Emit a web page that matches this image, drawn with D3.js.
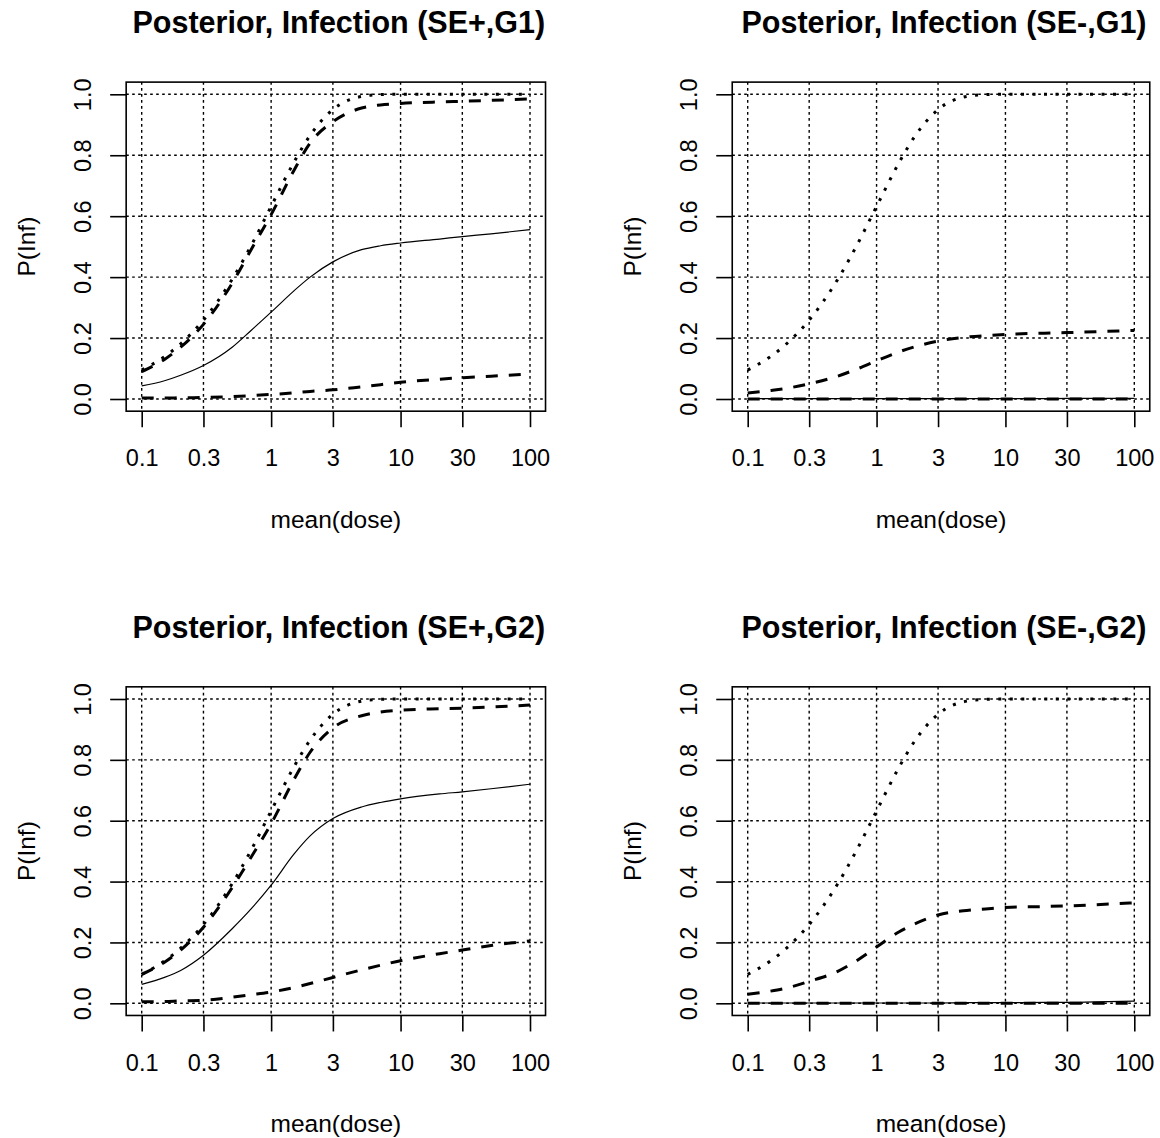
<!DOCTYPE html>
<html>
<head>
<meta charset="utf-8">
<script src="https://cdn.jsdelivr.net/npm/d3@7"></script>
<style>
  html, body { margin: 0; padding: 0; background: #ffffff; }
  svg { display: block; }
  text { font-family: "Liberation Sans", Arial, sans-serif; fill: #000; }
</style>
</head>
<body>
<div id="chart"></div>
<script>
// ---------------- data ----------------
const doses = [0.1, 0.15, 0.2, 0.3, 0.5, 0.7, 1, 1.5, 2, 3, 5, 7, 10, 20, 30, 50, 100];

const xTicks = [0.1, 0.3, 1, 3, 10, 30, 100];
const xTickLabels = ["0.1", "0.3", "1", "3", "10", "30", "100"];
const yTicks = [0, 0.2, 0.4, 0.6, 0.8, 1.0];
const yTickLabels = ["0.0", "0.2", "0.4", "0.6", "0.8", "1.0"];

const titles = [
  "Posterior, Infection (SE+,G1)",
  "Posterior, Infection (SE-,G1)",
  "Posterior, Infection (SE+,G2)",
  "Posterior, Infection (SE-,G2)"
];
const xLabel = "mean(dose)";
const yLabel = "P(Inf)";

// dotted reference curve (same in every panel)
const refDotted = [0.095, 0.139, 0.181, 0.259, 0.393, 0.503, 0.632, 0.777, 0.865, 0.950, 0.993, 0.999, 1.0, 1.0, 1.0, 1.0, 1.0];

// SE+, G1
const sePosG1Upper = [0.090, 0.130, 0.170, 0.245, 0.380, 0.490, 0.605, 0.750, 0.840, 0.910, 0.955, 0.965, 0.970, 0.975, 0.977, 0.980, 0.985];
const sePosG1Mean  = [0.043, 0.060, 0.078, 0.110, 0.170, 0.225, 0.285, 0.355, 0.400, 0.450, 0.490, 0.503, 0.512, 0.525, 0.533, 0.542, 0.556];
const sePosG1Lower = [0.003, 0.003, 0.004, 0.005, 0.008, 0.011, 0.015, 0.020, 0.025, 0.030, 0.040, 0.047, 0.055, 0.065, 0.070, 0.075, 0.082];

// SE-, G1
const seNegG1Upper = [0.020, 0.028, 0.035, 0.050, 0.075, 0.098, 0.125, 0.155, 0.172, 0.190, 0.203, 0.208, 0.212, 0.216, 0.218, 0.221, 0.225];
const seNegG1Mean  = [0.001, 0.001, 0.001, 0.001, 0.001, 0.001, 0.001, 0.001, 0.001, 0.001, 0.001, 0.001, 0.001, 0.001, 0.002, 0.002, 0.002];
const seNegG1Lower = [0, 0, 0, 0, 0, 0, 0, 0, 0, 0, 0, 0, 0, 0, 0, 0, 0];

// SE+, G2
const sePosG2Upper = [0.095, 0.135, 0.175, 0.250, 0.380, 0.480, 0.590, 0.735, 0.825, 0.905, 0.945, 0.957, 0.963, 0.968, 0.970, 0.974, 0.980];
const sePosG2Mean  = [0.062, 0.085, 0.108, 0.158, 0.245, 0.310, 0.388, 0.490, 0.550, 0.607, 0.645, 0.660, 0.672, 0.688, 0.695, 0.705, 0.720];
const sePosG2Lower = [0.005, 0.006, 0.008, 0.010, 0.020, 0.028, 0.037, 0.052, 0.065, 0.085, 0.110, 0.125, 0.140, 0.163, 0.175, 0.190, 0.205];

// SE-, G2
const seNegG2Upper = [0.030, 0.040, 0.050, 0.072, 0.105, 0.140, 0.185, 0.235, 0.262, 0.290, 0.305, 0.310, 0.315, 0.318, 0.320, 0.324, 0.330];
const seNegG2Mean  = [0.001, 0.001, 0.001, 0.001, 0.001, 0.001, 0.001, 0.001, 0.001, 0.001, 0.002, 0.002, 0.002, 0.003, 0.003, 0.005, 0.007];
const seNegG2Lower = [0, 0, 0, 0, 0, 0, 0, 0, 0, 0, 0, 0, 0, 0, 0, 0, 0];

const panels = [
  { title: titles[0], upper: sePosG1Upper, mean: sePosG1Mean, lower: sePosG1Lower, ref: refDotted, col: 0, row: 0 },
  { title: titles[1], upper: seNegG1Upper, mean: seNegG1Mean, lower: seNegG1Lower, ref: refDotted, col: 1, row: 0 },
  { title: titles[2], upper: sePosG2Upper, mean: sePosG2Mean, lower: sePosG2Lower, ref: refDotted, col: 0, row: 1 },
  { title: titles[3], upper: seNegG2Upper, mean: seNegG2Mean, lower: seNegG2Lower, ref: refDotted, col: 1, row: 1 }
];

// ---------------- layout ----------------
const W = 1160, H = 1138;
// pixel positions of first/last tick for each column / row
const colX = [ { a: 141.7, b: 530.0 }, { a: 747.7, b: 1134.3 } ];
const rowY = [ { a: 399.0, b: 94.3 }, { a: 1003.3, b: 699.0 } ];

const svg = d3.select("#chart").append("svg")
  .attr("width", W).attr("height", H)
  .attr("viewBox", `0 0 ${W} ${H}`);
svg.append("rect").attr("width", W).attr("height", H).attr("fill", "#fff");

const tickFont = 23.5;
const labFont = 24.5;
const titleFont = 30.5;

panels.forEach(p => {
  const cx = colX[p.col], ry = rowY[p.row];
  // R-style 4% extension of the data range
  const spanX = cx.b - cx.a;
  const extX = spanX * 0.04;
  const spanY = ry.a - ry.b;
  const extY = spanY * 0.04;
  const left = cx.a - extX, right = cx.b + extX;
  const top = ry.b - extY, bottom = ry.a + extY;

  const x = d3.scaleLog().domain([0.1, 100]).range([cx.a, cx.b]);
  const y = d3.scaleLinear().domain([0, 1]).range([ry.a, ry.b]);

  const g = svg.append("g");

  // grid (dotted)
  const grid = g.append("g").attr("stroke", "#000").attr("stroke-width", 1.4)
    .attr("stroke-dasharray", "2.6,3.4").attr("fill", "none");
  xTicks.forEach(t => {
    grid.append("line").attr("x1", x(t)).attr("x2", x(t)).attr("y1", top).attr("y2", bottom);
  });
  yTicks.forEach(t => {
    grid.append("line").attr("x1", left).attr("x2", right).attr("y1", y(t)).attr("y2", y(t));
  });

  // curves
  const line = d3.line().x((d, i) => x(doses[i])).y(d => y(d)).curve(d3.curveMonotoneX);
  const clipId = `clip${p.col}${p.row}`;
  g.append("clipPath").attr("id", clipId).append("rect")
    .attr("x", left).attr("y", top).attr("width", right - left).attr("height", bottom - top);
  const curves = g.append("g").attr("clip-path", `url(#${clipId})`).attr("fill", "none").attr("stroke", "#000");

  curves.append("path").datum(p.ref).attr("d", line)
    .attr("stroke-width", 3).attr("stroke-dasharray", "3,8.5");
  curves.append("path").datum(p.lower).attr("d", line)
    .attr("stroke-width", 3).attr("stroke-dasharray", "12,11");
  curves.append("path").datum(p.upper).attr("d", line)
    .attr("stroke-width", 3).attr("stroke-dasharray", "12,11");
  curves.append("path").datum(p.mean).attr("d", line)
    .attr("stroke-width", 1.2);

  // box
  g.append("rect").attr("x", left).attr("y", top)
    .attr("width", right - left).attr("height", bottom - top)
    .attr("fill", "none").attr("stroke", "#000").attr("stroke-width", 1.6);

  // x axis
  const xAxis = d3.axisBottom(x).tickValues(xTicks)
    .tickFormat((d, i) => xTickLabels[i]).tickSize(16).tickSizeOuter(0);
  const gx = g.append("g").attr("transform", `translate(0,${bottom})`).call(xAxis);
  gx.select(".domain").remove();
  gx.selectAll(".tick line").attr("stroke", "#000").attr("stroke-width", 1.6);
  gx.selectAll(".tick text").attr("y", 47).attr("dy", "0.35em")
    .style("font-family", '"Liberation Sans", Arial, sans-serif')
    .style("font-size", tickFont + "px").attr("fill", "#000");

  // y axis
  const yAxis = d3.axisLeft(y).tickValues(yTicks)
    .tickFormat((d, i) => yTickLabels[i]).tickSize(16).tickSizeOuter(0);
  const gy = g.append("g").attr("transform", `translate(${left},0)`).call(yAxis);
  gy.select(".domain").remove();
  gy.selectAll(".tick line").attr("stroke", "#000").attr("stroke-width", 1.6);
  gy.selectAll(".tick text")
    .attr("x", 0).attr("y", -43.5).attr("dy", "0.35em")
    .attr("transform", "rotate(-90)")
    .attr("text-anchor", "middle")
    .style("font-family", '"Liberation Sans", Arial, sans-serif')
    .style("font-size", tickFont + "px").attr("fill", "#000");

  // title
  g.append("text").attr("x", (left + right) / 2 + 3).attr("y", top - 49)
    .attr("text-anchor", "middle").style("font-weight", "bold")
    .style("font-size", titleFont + "px").text(p.title);

  // x label
  g.append("text").attr("x", (left + right) / 2).attr("y", bottom + 108)
    .attr("dy", "0.35em").attr("text-anchor", "middle")
    .style("font-size", labFont + "px").text(xLabel);

  // y label
  const ycenter = (top + bottom) / 2;
  g.append("text")
    .attr("transform", `translate(${left - 100},${ycenter}) rotate(-90)`)
    .attr("dy", "0.35em").attr("text-anchor", "middle")
    .style("font-size", labFont + "px").text(yLabel);
});
</script>
</body>
</html>
